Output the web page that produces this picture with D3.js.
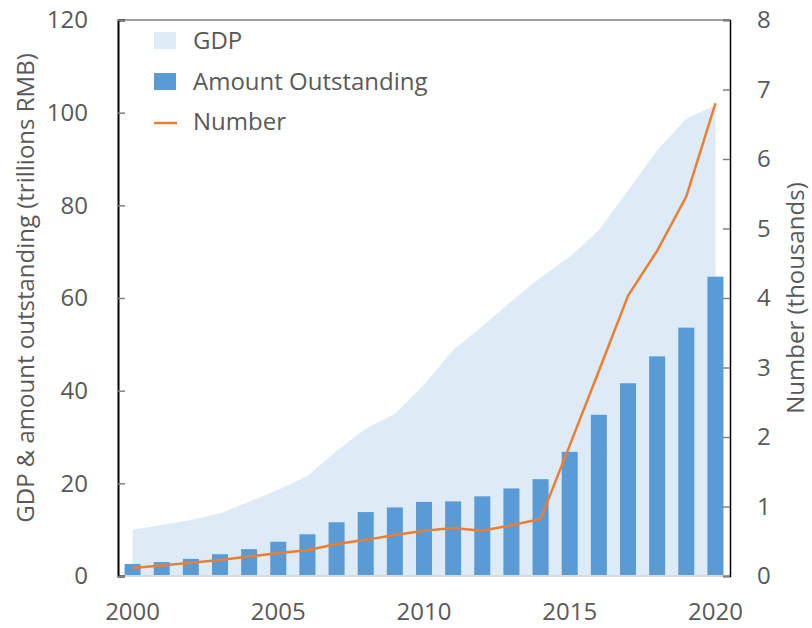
<!DOCTYPE html>
<html>
<head>
<meta charset="utf-8">
<script src="https://cdn.jsdelivr.net/npm/d3@7"></script>
<style>
  body { margin: 0; background: #fff; }
  text { font-family: "Open Sans", Lato, sans-serif; fill: #595959; }
</style>
</head>
<body>
<div id="chart"></div>
<script>
var years = [2000, 2001, 2002, 2003, 2004, 2005, 2006, 2007, 2008, 2009, 2010,
             2011, 2012, 2013, 2014, 2015, 2016, 2017, 2018, 2019, 2020];
// trillions RMB
var gdp = [10.0, 11.0, 12.1, 13.5, 16.0, 18.6, 21.6, 27.0, 31.8, 35.0, 41.2,
           48.8, 53.9, 59.3, 64.4, 68.9, 74.6, 83.2, 91.9, 98.7, 101.6];
var outstanding = [2.6, 3.0, 3.7, 4.7, 5.8, 7.4, 9.0, 11.6, 13.8, 14.8, 16.0,
                   16.1, 17.2, 18.9, 20.9, 26.8, 34.8, 41.6, 47.4, 53.6, 64.6];
// thousands
var number = [0.115, 0.15, 0.19, 0.23, 0.28, 0.33, 0.37, 0.46, 0.52, 0.59, 0.65,
              0.69, 0.65, 0.73, 0.82, 1.88, 2.95, 4.03, 4.68, 5.46, 6.8];
var leftTicks = [0, 20, 40, 60, 80, 100, 120];
var rightTicks = [0, 1, 2, 3, 4, 5, 6, 7, 8];
var yearLabels = [2000, 2005, 2010, 2015, 2020];

var W = 812, H = 628;
var margin = {top: 20, right: 82, bottom: 52, left: 118},
    width = W - margin.left - margin.right,
    height = H - margin.top - margin.bottom;

var svg = d3.select("#chart").append("svg")
    .attr("width", W).attr("height", H)
  .append("g")
    .attr("transform", "translate(" + margin.left + "," + margin.top + ")");

var x = d3.scaleBand().domain(years).range([0, width]).paddingInner(0.45).paddingOuter(0.225);
var cx = function(d) { return x(d) + x.bandwidth() / 2; };
var y = d3.scaleLinear().domain([0, 120]).range([height, 0]);
var y2 = d3.scaleLinear().domain([0, 8]).range([height, 0]);

// GDP area
svg.append("path")
  .datum(years)
  .attr("fill", "#ddebf7")
  .attr("d", d3.area()
    .x(function(d) { return cx(d); })
    .y0(y(0))
    .y1(function(d, i) { return y(gdp[i]); }));

// bars
svg.selectAll(".bar").data(years).enter().append("rect")
  .attr("x", function(d) { return x(d); })
  .attr("width", x.bandwidth())
  .attr("y", function(d, i) { return y(outstanding[i]); })
  .attr("height", function(d, i) { return y(0) - y(outstanding[i]); })
  .attr("fill", "#5b9bd5");

// number line
svg.append("path")
  .datum(years)
  .attr("fill", "none")
  .attr("stroke", "#ed7d31")
  .attr("stroke-width", 2.5)
  .attr("d", d3.line()
    .x(function(d) { return cx(d); })
    .y(function(d, i) { return y2(number[i]); }));

// frame
svg.append("line").attr("x1", 0).attr("x2", width).attr("y1", 0).attr("y2", 0)
  .attr("stroke", "#808080").attr("stroke-width", 1.5);
svg.append("line").attr("x1", 0).attr("x2", width).attr("y1", height).attr("y2", height)
  .attr("stroke", "#d9d9d9").attr("stroke-width", 2);

// left axis
var ax = svg.append("g")
  .call(d3.axisLeft(y).tickValues(leftTicks).tickSize(-7).tickPadding(30));
ax.select(".domain").attr("stroke", "#000").attr("stroke-width", 2);
ax.selectAll(".tick line").attr("stroke", "#808080").attr("stroke-width", 1.5);
ax.selectAll("text").style("font-size", "24px").attr("fill", "#595959");

// right axis
var ax2 = svg.append("g")
  .attr("transform", "translate(" + width + ",0)")
  .call(d3.axisRight(y2).tickValues(rightTicks).tickSize(-7).tickPadding(27));
ax2.select(".domain").attr("stroke", "#000").attr("stroke-width", 1.5);
ax2.selectAll(".tick line").attr("stroke", "#808080").attr("stroke-width", 1.5);
ax2.selectAll("text").style("font-size", "24px").attr("fill", "#595959");

// bottom labels
svg.append("g").selectAll("text").data(yearLabels).enter().append("text")
  .attr("x", function(d) { return cx(d); })
  .attr("y", height + 44)
  .attr("text-anchor", "middle")
  .style("font-size", "24px")
  .text(function(d) { return d; });

// axis titles
svg.append("text")
  .attr("transform", "translate(" + (-84) + "," + (height / 2 - 10) + ") rotate(-90)")
  .attr("text-anchor", "middle")
  .style("font-size", "24px")
  .text("GDP & amount outstanding (trillions RMB)");
svg.append("text")
  .attr("transform", "translate(" + (width + 74) + "," + (height / 2) + ") rotate(-90)")
  .attr("text-anchor", "middle")
  .style("font-size", "24px")
  .text("Number (thousands)");

// legend
var legend = svg.append("g").attr("transform", "translate(36,12)");
legend.append("rect").attr("x", 0).attr("y", 0).attr("width", 22).attr("height", 17).attr("fill", "#ddebf7");
legend.append("text").attr("x", 39).attr("y", 17).style("font-size", "24px").text("GDP");
legend.append("rect").attr("x", 0).attr("y", 41).attr("width", 22).attr("height", 17).attr("fill", "#5b9bd5");
legend.append("text").attr("x", 39).attr("y", 58).style("font-size", "24px").text("Amount Outstanding");
legend.append("line").attr("x1", 0).attr("x2", 23).attr("y1", 91).attr("y2", 91)
  .attr("stroke", "#ed7d31").attr("stroke-width", 2.5);
legend.append("text").attr("x", 39).attr("y", 98).style("font-size", "24px").text("Number");
</script>
</body>
</html>
